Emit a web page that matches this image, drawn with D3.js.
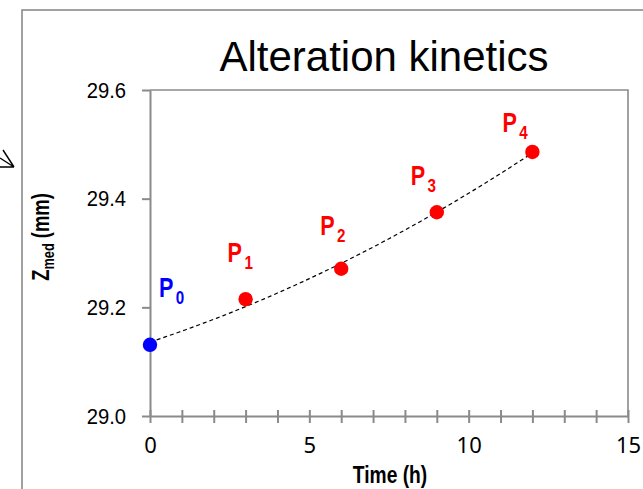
<!DOCTYPE html>
<html>
  <head>
    <meta charset="utf-8">
    <style>
      body { margin: 0; background: #fff; }
      svg { display: block; }
    </style>
    <script src="https://d3js.org/d3.v7.min.js"></script>
    <title>Alteration kinetics</title>
  </head>
  <body>
    <div id="chart"></div>
    <script>
    // measured points: time (h) and median Z (mm)
    var pointNames = ["0", "1", "2", "3", "4"]
    var timeH = [0, 3, 6, 9, 12]
    var zMed = [29.131, 29.215, 29.271, 29.375, 29.486]
    var pointColors = ["#0000ff", "#ff0000", "#ff0000", "#ff0000", "#ff0000"]
    var yTicks = [29.0, 29.2, 29.4, 29.6]
    var xTicks = [0, 5, 10, 15]

    // where each P label sits relative to its marker (px)
    var labelShift = [[9, -48], [-18, -37], [-21, -34], [-26, -27], [-30, -20]]

    var W = 643, H = 489
    var plot = {left: 150, right: 628, top: 90, bottom: 416}
    var sans = "'Liberation Sans', Arial, sans-serif"
    var squeeze = 0.8   // no narrow face installed, so bold labels get squeezed

    var svg = d3.select("#chart").append("svg")
      .attr("width", W).attr("height", H)

    // outer chart frame (runs past the right and bottom edge)
    svg.append("rect")
      .attr("x", 22).attr("y", 10)
      .attr("width", 700).attr("height", 600)
      .attr("fill", "none").attr("stroke", "#8a8a8a").attr("stroke-width", 1.6)

    // stray arrow head left of the frame
    svg.append("path")
      .attr("d", "M3,150 L14,167 M0,158 L14,167 M0,167 L14,167")
      .attr("fill", "none").attr("stroke", "#000").attr("stroke-width", 1.4)

    var x = d3.scaleLinear().domain([0, 15]).range([plot.left, plot.right])
    var y = d3.scaleLinear().domain([29.0, 29.6]).range([plot.bottom, plot.top])

    // plot area box (top and right side)
    svg.append("path")
      .attr("d", "M" + plot.left + "," + plot.top + " H" + plot.right + " V" + plot.bottom)
      .attr("fill", "none").attr("stroke", "#8a8a8a").attr("stroke-width", 1.6)

    // y axis
    var gy = svg.append("g")
      .attr("transform", "translate(" + plot.left + ",0)")
      .call(d3.axisLeft(y).tickValues(yTicks).tickFormat(d3.format(".1f"))
        .tickSizeInner(8).tickSizeOuter(0).tickPadding(16))
    gy.select(".domain").attr("stroke", "#8a8a8a").attr("stroke-width", 2)
    gy.selectAll(".tick line").attr("stroke", "#8a8a8a").attr("stroke-width", 2)
    gy.selectAll(".tick text")
      .style("font-family", sans)
      .style("font-size", "22px").attr("fill", "#000")
      .attr("transform", "translate(-24,0) scale(0.92,1) translate(24,0)")

    // x axis: a tick every hour crossing the line, labels every 5 h
    var gx = svg.append("g")
      .attr("transform", "translate(0," + plot.bottom + ")")
      .call(d3.axisBottom(x).tickValues(d3.range(0, 16)).tickFormat("")
        .tickSizeInner(7).tickSizeOuter(0))
    gx.select(".domain").attr("stroke", "#8a8a8a").attr("stroke-width", 2)
    gx.selectAll(".tick line").attr("y1", -6)
      .attr("stroke", "#8a8a8a").attr("stroke-width", 2)

    var gxl = svg.append("g")
      .attr("transform", "translate(0," + plot.bottom + ")")
      .call(d3.axisBottom(x).tickValues(xTicks).tickFormat(d3.format("d"))
        .tickSize(0).tickPadding(21))
    gxl.select(".domain").remove()
    gxl.selectAll(".tick text")
      .style("font-family", "'Noto Sans', 'Open Sans', sans-serif")
      .style("font-size", "22px").attr("fill", "#000")

    // least squares quadratic through the points, drawn as the dashed trend
    function quadFit(xs, ys) {
      var s = [0, 0, 0, 0, 0], t = [0, 0, 0]
      xs.forEach(function(xi, i) {
        for (var k = 0; k < 5; k++) s[k] += Math.pow(xi, k)
        for (var k = 0; k < 3; k++) t[k] += Math.pow(xi, k) * ys[i]
      })
      var A = [[s[0], s[1], s[2], t[0]], [s[1], s[2], s[3], t[1]], [s[2], s[3], s[4], t[2]]]
      for (var c = 0; c < 3; c++) {
        for (var r = c + 1; r < 3; r++) {
          var f = A[r][c] / A[c][c]
          for (var k = c; k < 4; k++) A[r][k] -= f * A[c][k]
        }
      }
      var b = [0, 0, 0]
      for (var r = 2; r >= 0; r--) {
        var v = A[r][3]
        for (var k = r + 1; k < 3; k++) v -= A[r][k] * b[k]
        b[r] = v / A[r][r]
      }
      return function(v) { return b[0] + b[1] * v + b[2] * v * v }
    }
    var trend = quadFit(timeH, zMed)
    var trendX = d3.range(0, 12.001, 0.1)

    svg.append("path")
      .datum(trendX)
      .attr("d", d3.line().x(function(d) { return x(d) }).y(function(d) { return y(trend(d)) }))
      .attr("fill", "none").attr("stroke", "#000").attr("stroke-width", 1.2)
      .attr("stroke-dasharray", "4,3")

    // markers
    svg.selectAll(".pt")
      .data(timeH).enter().append("circle")
      .attr("cx", function(d) { return x(d) })
      .attr("cy", function(d, i) { return y(zMed[i]) })
      .attr("r", 7.2)
      .attr("fill", function(d, i) { return pointColors[i] })

    // P labels with subscript index
    var lab = svg.selectAll(".lab")
      .data(timeH).enter().append("text")
      .attr("transform", function(d, i) {
        return "translate(" + (x(d) + labelShift[i][0]) + "," + (y(zMed[i]) + labelShift[i][1]) + ") scale(" + squeeze + ",1)"
      })
      .attr("fill", function(d, i) { return pointColors[i] })
      .style("font-family", sans)
      .style("font-weight", "bold")
      .style("font-size", "27px")
    lab.append("tspan").text("P")
    lab.append("tspan")
      .attr("dx", 3).attr("dy", 7)
      .style("font-size", "19px")
      .text(function(d, i) { return pointNames[i] })

    // title
    svg.append("text")
      .attr("x", 384).attr("y", 71)
      .attr("text-anchor", "middle")
      .style("font-family", sans)
      .style("font-size", "42px")
      .text("Alteration kinetics")

    // axis titles
    svg.append("text")
      .attr("transform", "translate(390,483) scale(" + squeeze + ",1)")
      .attr("text-anchor", "middle")
      .style("font-family", sans)
      .style("font-weight", "bold")
      .style("font-size", "24px")
      .text("Time (h)")

    var yl = svg.append("text")
      .attr("transform", "translate(49,237) rotate(-90) scale(" + squeeze + ",1)")
      .attr("text-anchor", "middle")
      .style("font-family", sans)
      .style("font-weight", "bold")
      .style("font-size", "23px")
    yl.append("tspan").text("Z")
    yl.append("tspan").attr("dy", 5).style("font-size", "16px").text("med")
    yl.append("tspan").attr("dy", -5).text(" (mm)")
    </script>
  </body>
</html>
